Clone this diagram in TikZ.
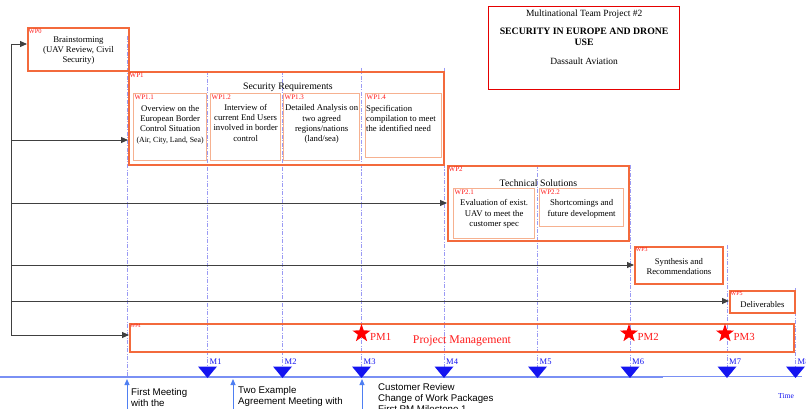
\documentclass[tikz,border=0pt]{standalone}
\usepackage{fontspec}
\setmainfont{Liberation Serif}
\newfontfamily\arialfont{Liberation Sans}
\usetikzlibrary{shapes.geometric,arrows.meta,positioning}
\definecolor{wporange}{HTML}{F36A3C}
\definecolor{wppeach}{HTML}{F6B190}
\definecolor{wpred}{HTML}{FF1A1A}
\definecolor{msblue}{HTML}{1414F0}
\definecolor{tlblue}{HTML}{7A90F4}
\definecolor{evblue}{HTML}{4F7FF2}
\definecolor{guideblue}{HTML}{9A9AF4}
\tikzset{
  wpbox/.style={draw=wporange, line width=1.9pt, anchor=north west, inner sep=0pt},
  subbox/.style={draw=wppeach, line width=1.3pt, anchor=north west, inner sep=0pt},
  titlebox/.style={draw=red!90!black, line width=1.3pt, anchor=north west, inner sep=0pt},
  wptag/.style={anchor=north west, text=wpred, inner sep=1.5pt, font=\fontsize{7}{8}\selectfont},
  boxtext/.style={align=center, inner sep=0pt, font=\fontsize{8.7}{10.3}\selectfont},
  headtext/.style={anchor=base, inner sep=0pt, font=\fontsize{9.8}{11}\selectfont},
  feed/.style={draw=black!75, line width=0.9pt, -{Triangle[length=7pt,width=6pt]}},
  spine/.style={draw=black!75, line width=0.9pt},
  guide/.style={draw=guideblue, line width=0.6pt, dash pattern=on 4pt off 1.5pt on 1pt off 1.5pt},
  timeline/.style={draw=tlblue, line width=2pt},
  event/.style={draw=evblue, line width=1pt, -{Triangle[length=6pt,width=5pt]}},
  eventtext/.style={anchor=north west, align=left, inner sep=0pt, font=\arialfont\fontsize{9.7}{11}\selectfont},
  mstag/.style={anchor=west, text=msblue, inner sep=0pt, font=\fontsize{8.5}{9}\selectfont},
  pmstar/.style={star, star points=5, star point ratio=2.5, fill=red, draw=none, minimum size=19pt, inner sep=0pt},
  pmtag/.style={text=wpred, inner sep=0pt, font=\fontsize{10.8}{12}\selectfont}
}

\begin{document}
\begin{tikzpicture}[x=1pt,y=-1pt]
  \useasboundingbox (0,0) rectangle (806,409);

  % milestone guides
  \foreach \x/\top in {127/36,207.5/71,282.5/71,361.5/68,444/68,537.5/165,630/165,727/245,795.5/288}
    \draw[guide] (\x,\top) -- (\x,377);

  % title block
  \node[titlebox, minimum width=191pt, minimum height=83pt] (title) at (488,6) {};
  \node[headtext, font=\fontsize{9.5}{11}\selectfont] at ([yshift=-10.3pt]title.north) {Multinational Team Project \#2};
  \node[headtext, align=center, font=\bfseries\fontsize{9.8}{11}\selectfont] at ([yshift=-39.5pt]title.north) {SECURITY IN EUROPE AND DRONE\\USE};
  \node[headtext, font=\fontsize{9.5}{11}\selectfont] at ([yshift=-58.5pt]title.north) {Dassault Aviation};

  % WP0
  \node[wpbox, minimum width=101pt, minimum height=43pt] (wp0) at (27,27) {};
  \node[wptag, font=\fontsize{6.5}{7}\selectfont] at (wp0.north west) {WP0};
  \node[boxtext] at ([yshift=-1pt]wp0.center) {Brainstorming\\(UAV Review, Civil\\Security)};

  % WP1
  \node[wpbox, minimum width=315pt, minimum height=93pt] (wp1) at (128,71) {};
  \node[wptag] at (wp1.north west) {WP1};
  \node[headtext] at ([yshift=-18.5pt,xshift=1.5pt]wp1.north) {Security Requirements};
  \node[subbox, minimum width=73pt, minimum height=67pt] (wp11) at (133,93) {};
  \node[subbox, minimum width=70pt, minimum height=67pt] (wp12) at (210,93) {};
  \node[subbox, minimum width=76pt, minimum height=67pt] (wp13) at (283,93) {};
  \node[subbox, minimum width=76pt, minimum height=64pt] (wp14) at (365,93) {};
  \foreach \n/\t in {wp11/WP1.1,wp12/WP1.2,wp13/WP1.3,wp14/WP1.4}
    \node[wptag] at (\n.north west) {\t};
  \node[boxtext, below=12pt of wp11.north] {Overview on the\\European Border\\Control Situation\\{\fontsize{7.8}{10.3}\selectfont(Air, City, Land, Sea)}};
  \node[boxtext, below=11pt of wp12.north] {Interview of\\current End Users\\involved in border\\control};
  \node[boxtext, below=11.5pt of wp13.north] {Detailed Analysis on\\two agreed\\regions/nations\\(land/sea)};
  \node[boxtext, align=left, anchor=north west] at ([yshift=-12pt,xshift=1pt]wp14.north west) {Specification\\compilation to meet\\the identified need};

  % WP2
  \node[wpbox, minimum width=181pt, minimum height=75pt] (wp2) at (447,165) {};
  \node[wptag] at (wp2.north west) {WP2};
  \node[headtext] at ([yshift=-21pt]wp2.north) {Technical Solutions};
  \node[subbox, minimum width=81pt, minimum height=50pt] (wp21) at (453,188) {};
  \node[subbox, minimum width=84pt, minimum height=38pt] (wp22) at (539,188) {};
  \node[wptag] at (wp21.north west) {WP2.1};
  \node[wptag] at (wp22.north west) {WP2.2};
  \node[boxtext, below=11.5pt of wp21.north] {Evaluation of exist.\\UAV to meet the\\customer spec};
  \node[boxtext, below=11.5pt of wp22.north] {Shortcomings and\\future development};

  % WP3, WP5
  \node[wpbox, minimum width=88pt, minimum height=37pt] (wp3) at (634,246) {};
  \node[wptag, font=\fontsize{6}{7}\selectfont] at (wp3.north west) {WP3};
  \node[boxtext, below=12pt of wp3.north] {Synthesis and\\Recommendations};
  \node[wpbox, minimum width=65pt, minimum height=22pt] (wp5) at (729,290) {};
  \node[wptag, font=\fontsize{6}{7}\selectfont] at (wp5.north west) {WP5};
  \node[boxtext, below=11.5pt of wp5.north] {Deliverables};

  % WP4 project management
  \node[wpbox, minimum width=664pt, minimum height=28pt] (wp4) at (129,323) {};
  \node[wptag, font=\fontsize{5}{6}\selectfont] at (wp4.north west) {WP4};
  \node[pmtag, font=\fontsize{11.8}{13}\selectfont] at ([yshift=-3pt]wp4.center) {Project Management};
  \foreach \x/\i in {361.5/1,629/2,725/3} {
    \node[pmstar] (pm\i) at (\x,333.5) {};
    \node[pmtag, right=3pt of pm\i, yshift=-3pt] {PM\i};
  }

  % feeding arrows
  \coordinate (spinetop) at (11,44);
  \coordinate (spinebot) at (11,335);
  \draw[spine] (spinetop) -- (spinebot);
  \draw[feed] (spinetop) -- (spinetop -| wp0.west);
  \foreach \y/\wp in {140/wp1,203/wp2,265/wp3,301/wp5,335/wp4} {
    \coordinate (f\wp) at (11,\y);
    \draw[feed] (f\wp) -- (f\wp -| \wp.west);
  }

  % time line and milestones
  \draw[timeline] (0,377) -- (663,377);
  \draw[timeline, line width=1pt] (663,376.5) -- (802,376.5);
  \foreach \x [count=\i] in {207.5,282.5,361.5,444,537.5,630,727,795.5} {
    \fill[msblue] (\x-9.5,366.5) -- (\x+9.5,366.5) -- (\x,378) -- cycle;
    \node[mstag] (m\i) at (\x+2,361.5) {M\i};
  }
  \node[mstag, anchor=center, font=\fontsize{7.6}{8}\selectfont] (time) at (786,396) {Time};

  % events below the time line
  \foreach \x/\n in {127/1,233/2,362/3} {
    \coordinate (ev\n) at (\x,412);
    \coordinate (evtip\n) at (\x,379);
    \draw[event] (ev\n) -- (evtip\n);
  }
  \node[eventtext] at (131,388.5) {First Meeting\\with the};
  \node[eventtext] at (238,386.5) {Two Example\\Agreement Meeting with};
  \node[eventtext] at (378,383.5) {Customer Review\\Change of Work Packages\\First PM Milestone 1};
\end{tikzpicture}
\end{document}
